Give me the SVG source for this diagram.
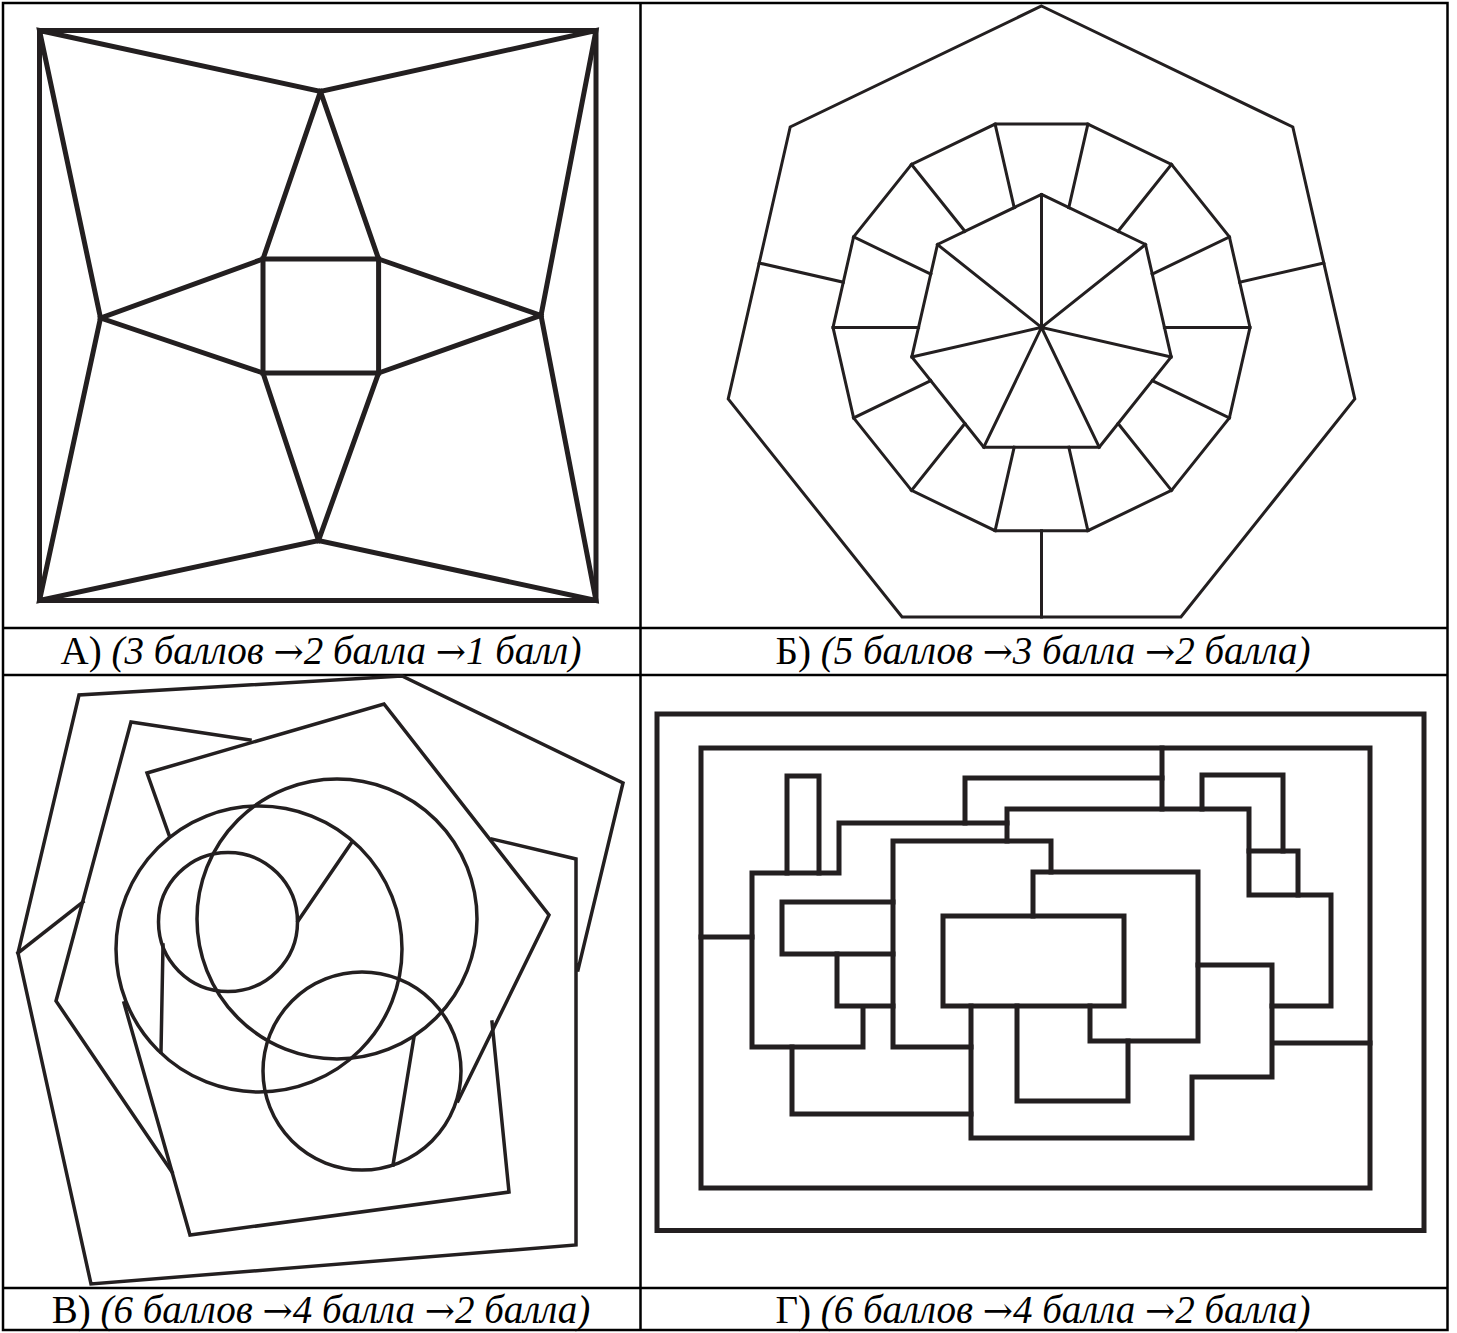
<svg xmlns="http://www.w3.org/2000/svg" width="1457" height="1333" viewBox="0 0 1457 1333">
<style>
.tbl{stroke:#000;stroke-width:2.5;fill:none}
.f{stroke:#231f20;fill:none;stroke-linejoin:miter;stroke-linecap:square}
.fa{stroke-width:5}
.fb{stroke-width:3}
.fv{stroke-width:3.5}
.fg{stroke-width:5}
.lbl{font-family:"Liberation Serif","Times New Roman",serif;font-size:39px;text-anchor:middle;fill:#000}
.it{font-style:italic}
.ar{font-family:"DejaVu Serif",serif;font-style:normal;font-size:36px}
</style>
<rect width="1457" height="1333" fill="#fff"/>
<g id="table">
<rect class="tbl" x="3" y="3" width="1444.5" height="1327"/>
<path class="tbl" d="M640.5,3V1330M3,628H1447.5M3,675H1447.5M3,1288H1447.5"/>
</g>
<g id="figA" class="f fa">
<rect x="39.5" y="30.5" width="556.5" height="570"/>
<polygon points="39.5,30.5 320.5,91.5 596,30.5 541,315.5 596,600.5 318.5,540.5 39.5,600.5 100.5,318"/>
<rect x="263" y="259" width="115.6" height="114"/>
<path d="M320.5,91.5L263,259M320.5,91.5L378.6,259M100.5,318L263,259M100.5,318L263,373M541,315.5L378.6,259M541,315.5L378.6,373M318.5,540.5L263,373M318.5,540.5L378.6,373"/>
</g>
<g id="figB" class="f fb">
<polygon points="1041.5,6 1292.8,127 1354.8,398.9 1180.9,617 902.1,617 728.2,398.9 790.2,127"/>
<polygon points="1087.9,124.1 1171.5,164.4 1229.4,236.9 1250,327.4 1229.4,417.9 1171.5,490.4 1087.9,530.7 995.1,530.7 911.5,490.4 853.6,417.9 833,327.4 853.6,236.9 911.5,164.4 995.1,124.1"/>
<polygon points="1041.5,194.4 1145.5,244.5 1171.2,357 1099.2,447.2 983.8,447.2 911.8,357 937.5,244.5"/>
<path d="M1041.5,327.4L1041.5,194.4M1041.5,327.4L1145.5,244.5M1041.5,327.4L1171.2,357M1041.5,327.4L1099.2,447.2M1041.5,327.4L983.8,447.2M1041.5,327.4L911.8,357M1041.5,327.4L937.5,244.5"/>
<path d="M1087.9,124.1L1068.8,207.6M1171.5,164.4L1118.1,231.3M1229.4,236.9L1152.2,274.1M1250,327.4L1164.4,327.4M1229.4,417.9L1152.2,380.7M1171.5,490.4L1118.1,423.5M1087.9,530.7L1068.8,447.2M995.1,530.7L1014.2,447.2M911.5,490.4L964.9,423.5M853.6,417.9L930.8,380.7M833,327.4L918.6,327.4M853.6,236.9L930.8,274.1M911.5,164.4L964.9,231.3M995.1,124.1L1014.2,207.6"/>
<path d="M1041.5,530.7V617M1239.7,282.2L1323.8,263M843.3,282.2L759.2,263"/>
</g>
<g id="figV" class="f fv">
<path d="M578,970L623,783L402,676L79,695L18,953L91,1284L576,1245L576,859L492,839"/>
<path d="M18,953L83,902"/>
<path d="M250,740L131,722L56,1001L172,1172"/>
<path d="M169,835L147,773L384,704L549,915L458,1101"/>
<path d="M124,1003L190,1235L509,1192L492,1022"/>
<circle cx="259" cy="949" r="143"/>
<circle cx="337" cy="919" r="140"/>
<circle cx="228" cy="922" r="69.5"/>
<circle cx="362" cy="1071" r="99"/>
<path d="M298,921L352,842M163,945L161,1052M414,1037L393,1165"/>
</g>
<g id="figG" class="f fg">
<rect x="657" y="714" width="767" height="516.5"/>
<rect x="701" y="748" width="669" height="440"/>
<path d="M701,937H752M1273,1043H1370M1162,748V809"/>
<path d="M787,873V776H819V873"/>
<path d="M1007,823H839V873H752V1047H863V1006M837,954V1006H893"/>
<path d="M893,902H782V954H893"/>
<path d="M971,1047H893V841H1051V872"/>
<path d="M1033,916V872H1198V1041H1090V1006"/>
<rect x="943" y="916" width="181" height="90"/>
<path d="M971,1006V1138H1192V1077H1272V965H1198"/>
<path d="M1017,1006V1101H1128V1041"/>
<path d="M792,1047V1114H971"/>
<path d="M965,823V778H1162"/>
<path d="M1007,841V809H1249V895H1331V1006H1272"/>
<path d="M1202,809V775H1283V851"/>
<path d="M1249,851H1298V895"/>
</g>
<g id="labels">
<text class="lbl" x="321" y="664">А) <tspan class="it">(3 баллов <tspan class="ar">→</tspan>2 балла <tspan class="ar">→</tspan>1 балл)</tspan></text>
<text class="lbl" x="1043" y="664">Б) <tspan class="it">(5 баллов <tspan class="ar">→</tspan>3 балла <tspan class="ar">→</tspan>2 балла)</tspan></text>
<text class="lbl" x="321" y="1323">В) <tspan class="it">(6 баллов <tspan class="ar">→</tspan>4 балла <tspan class="ar">→</tspan>2 балла)</tspan></text>
<text class="lbl" x="1043" y="1323">Г) <tspan class="it">(6 баллов <tspan class="ar">→</tspan>4 балла <tspan class="ar">→</tspan>2 балла)</tspan></text>
</g>
</svg>
